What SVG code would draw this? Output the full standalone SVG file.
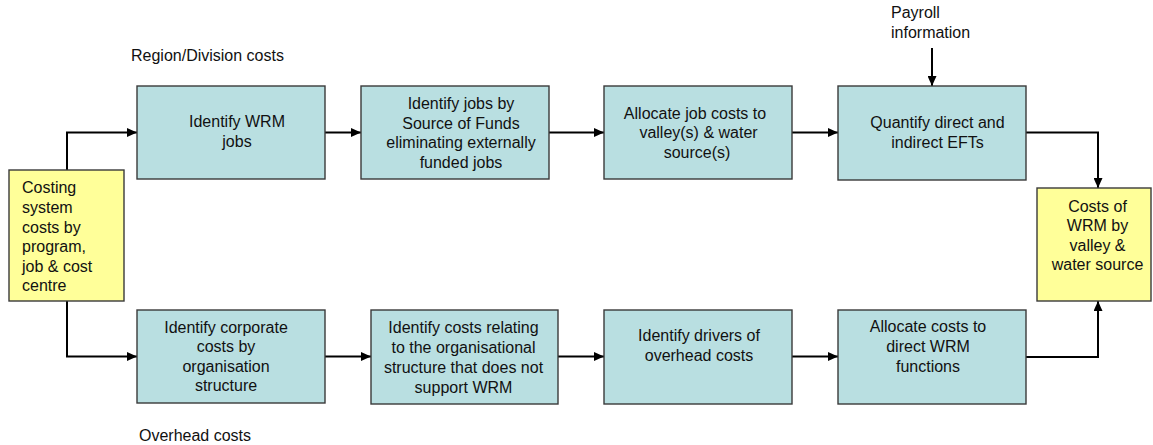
<svg xmlns="http://www.w3.org/2000/svg" width="1153" height="445" viewBox="0 0 1153 445">
<style>
  text { font-family: "Liberation Sans", Arial, sans-serif; font-size: 16px; fill: #111; }
  .c { text-anchor: middle; }
  .proc { fill: #B9DFE1; stroke: #3a3a3a; stroke-width: 1.4; }
  .io { fill: #FFFF99; stroke: #3a3a3a; stroke-width: 1.4; }
  .conn { fill: none; stroke: #000; stroke-width: 2; marker-end: url(#arr); }
</style>
<defs>
  <marker id="arr" markerUnits="userSpaceOnUse" markerWidth="10" markerHeight="9" refX="10" refY="4.5" orient="auto">
    <path d="M0,0 L10,4.5 L0,9 z" fill="#000"/>
  </marker>
</defs>
<rect width="1153" height="445" fill="#fff"/>

<g id="labels">
  <text x="131" y="61">Region/Division costs</text>
  <text x="139" y="441">Overhead costs</text>
  <text x="891" y="18">Payroll</text>
  <text x="891" y="38">information</text>
</g>

<g id="connectors">
  <path class="conn" d="M67,170 V132.5 H137"/>
  <path class="conn" d="M67,301 V356.5 H137"/>
  <path class="conn" d="M325,132.5 H361"/>
  <path class="conn" d="M549,132.5 H604"/>
  <path class="conn" d="M792,132.5 H838"/>
  <path class="conn" d="M325,356.5 H371"/>
  <path class="conn" d="M558,356.5 H604"/>
  <path class="conn" d="M792,356.5 H838"/>
  <path class="conn" d="M932,48 V86"/>
  <path class="conn" d="M1026,132.5 H1098 V188"/>
  <path class="conn" d="M1026,357 H1098 V301"/>
</g>

<g id="costing-system">
  <rect class="io" x="9" y="170" width="115" height="131"/>
  <text x="22" y="193.3">Costing</text>
  <text x="22" y="212.9">system</text>
  <text x="22" y="232.5">costs by</text>
  <text x="22" y="252.1">program,</text>
  <text x="22" y="271.7">job &amp; cost</text>
  <text x="22" y="291.3">centre</text>
</g>

<g id="identify-wrm-jobs">
  <rect class="proc" x="137" y="86" width="188" height="93"/>
  <text class="c" x="237" y="127">Identify WRM</text>
  <text class="c" x="237" y="146.7">jobs</text>
</g>

<g id="identify-jobs-sof">
  <rect class="proc" x="361" y="86" width="188" height="93"/>
  <text class="c" x="461" y="109">Identify jobs by</text>
  <text class="c" x="461" y="128.7">Source of Funds</text>
  <text class="c" x="461" y="148.4">eliminating externally</text>
  <text class="c" x="461" y="168.1">funded jobs</text>
</g>

<g id="allocate-job-costs">
  <rect class="proc" x="604" y="86" width="188" height="93"/>
  <text class="c" x="695" y="118.5">Allocate job costs to</text>
  <text class="c" x="698.5" y="138.2">valley(s) &amp; water</text>
  <text class="c" x="697" y="157.9">source(s)</text>
</g>

<g id="quantify-efts">
  <rect class="proc" x="838" y="86" width="188" height="94"/>
  <text class="c" x="937.5" y="128">Quantify direct and</text>
  <text class="c" x="937.5" y="147.7">indirect EFTs</text>
</g>

<g id="costs-of-wrm">
  <rect class="io" x="1037" y="188" width="114" height="113"/>
  <text class="c" x="1097.5" y="211.7">Costs of</text>
  <text class="c" x="1097.5" y="231.2">WRM by</text>
  <text class="c" x="1097.5" y="250.7">valley &amp;</text>
  <text class="c" x="1097.5" y="270.2">water source</text>
</g>

<g id="identify-corporate-costs">
  <rect class="proc" x="137" y="310" width="188" height="93"/>
  <text class="c" x="226" y="332.5">Identify corporate</text>
  <text class="c" x="226" y="352">costs by</text>
  <text class="c" x="226" y="371.5">organisation</text>
  <text class="c" x="226" y="391">structure</text>
</g>

<g id="identify-costs-org">
  <rect class="proc" x="371" y="310" width="187" height="94"/>
  <text class="c" x="463.5" y="332.7">Identify costs relating</text>
  <text class="c" x="463.5" y="352.7">to the organisational</text>
  <text class="c" x="463.5" y="372.7">structure that does not</text>
  <text class="c" x="463.5" y="392.7">support WRM</text>
</g>

<g id="identify-drivers">
  <rect class="proc" x="604" y="310" width="188" height="94"/>
  <text class="c" x="699" y="340.7">Identify drivers of</text>
  <text class="c" x="699" y="360.7">overhead costs</text>
</g>

<g id="allocate-costs-wrm">
  <rect class="proc" x="838" y="310" width="188" height="94"/>
  <text class="c" x="928" y="332">Allocate costs to</text>
  <text class="c" x="928" y="352">direct WRM</text>
  <text class="c" x="928" y="372">functions</text>
</g>
</svg>
